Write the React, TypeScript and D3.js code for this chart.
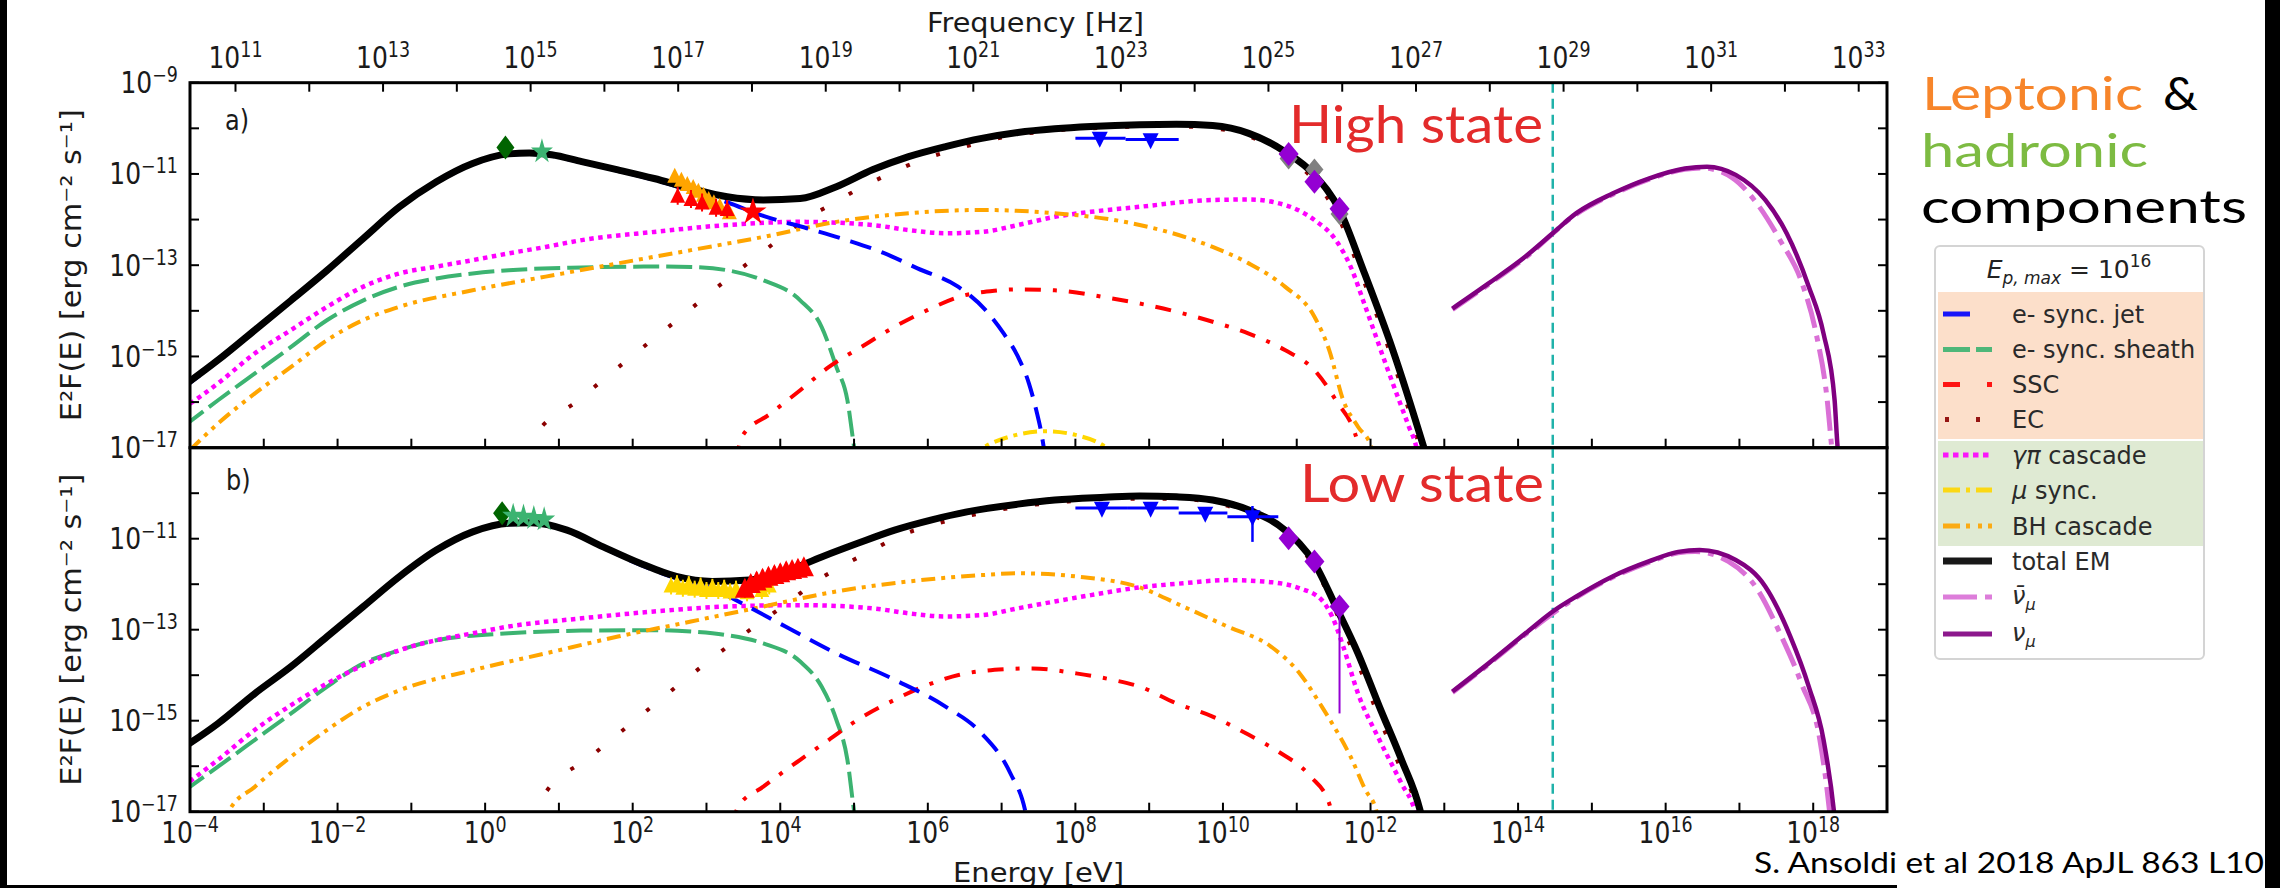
import React from "react";
import * as d3 from "d3";

type P = [number, number];

// ---------- data: [log10 E (eV), log10 E^2F (erg cm^-2 s^-1)] ----------
// Panel a) high state
const highTotal: P[] = [[-4.1,-15.66],[-3.62,-15.08],[-3.12,-14.42],[-2.63,-13.77],[-2.14,-13.11],[-1.65,-12.41],[-1.16,-11.72],[-0.66,-11.17],[-0.17,-10.77],[0.32,-10.56],[0.6,-10.54],[0.9,-10.58],[1.31,-10.73],[1.8,-10.91],[2.29,-11.1],[2.79,-11.32],[3.28,-11.5],[3.77,-11.57],[4.27,-11.54],[4.76,-11.28],[5.25,-10.91],[5.74,-10.62],[6.24,-10.4],[6.73,-10.22],[7.22,-10.09],[7.72,-10.01],[8.21,-9.96],[8.87,-9.92],[9.37,-9.91],[9.86,-9.94],[10.35,-10.11],[10.84,-10.51],[11.24,-11.02],[11.58,-11.79],[11.9,-13.1],[12.3,-14.85],[12.72,-16.98],[12.78,-17.3]];
const highJet: P[] = [[-4.1,-15.7],[-3.62,-15.1],[-3.12,-14.44],[-2.63,-13.79],[-2.14,-13.13],[-1.65,-12.43],[-1.16,-11.74],[-0.66,-11.19],[-0.17,-10.79],[0.32,-10.58],[0.6,-10.56],[0.9,-10.6],[1.31,-10.75],[1.8,-10.93],[2.29,-11.13],[2.79,-11.37],[3.28,-11.62],[3.77,-11.92],[4.36,-12.19],[4.9,-12.45],[5.4,-12.73],[5.86,-13.07],[6.41,-13.47],[6.78,-13.98],[7.03,-14.5],[7.22,-15.0],[7.37,-15.59],[7.47,-16.18],[7.54,-16.69],[7.6,-17.3]];
const highSheath: P[] = [[-4.1,-16.55],[-3.62,-15.96],[-3.12,-15.37],[-2.63,-14.79],[-2.14,-14.2],[-1.65,-13.77],[-1.16,-13.47],[-0.66,-13.29],[-0.17,-13.18],[0.32,-13.11],[1.31,-13.05],[2.29,-13.03],[2.79,-13.04],[3.28,-13.11],[3.77,-13.33],[4.27,-13.77],[4.56,-14.35],[4.76,-15.23],[4.91,-15.96],[5.0,-16.98],[5.03,-17.3]];
const highSSC: P[] = [[3.4,-17.3],[3.48,-16.76],[3.87,-16.25],[4.27,-15.74],[4.66,-15.23],[5.1,-14.79],[5.55,-14.35],[6.0,-13.98],[6.43,-13.69],[6.9,-13.56],[7.22,-13.53],[7.72,-13.55],[8.5,-13.73],[8.87,-13.84],[9.37,-14.02],[9.86,-14.24],[10.35,-14.5],[10.84,-14.86],[11.24,-15.3],[11.53,-15.96],[11.83,-16.91],[11.88,-17.3]];
const highEC: P[] = [[0.55,-17.1],[0.62,-16.87],[1.28,-15.94],[1.94,-15.06],[2.61,-14.19],[3.28,-13.31],[3.97,-12.45],[4.32,-12.01],[4.68,-11.68],[5.07,-11.32],[5.45,-11.02],[5.9,-10.7],[6.4,-10.45],[7.0,-10.2],[7.7,-10.05],[8.5,-9.98],[9.2,-9.95],[9.86,-10.0],[10.35,-10.17],[10.84,-10.6],[11.24,-11.15],[11.55,-11.9],[11.85,-13.1],[12.25,-14.85],[12.66,-16.95],[12.72,-17.3]];
const highGammaPi: P[] = [[-4.1,-16.15],[-3.62,-15.59],[-3.12,-14.93],[-2.63,-14.42],[-2.14,-13.91],[-1.65,-13.47],[-1.16,-13.18],[-0.66,-13.03],[-0.17,-12.89],[0.32,-12.74],[0.82,-12.6],[1.31,-12.45],[2.29,-12.27],[3.28,-12.12],[4.27,-12.05],[5.25,-12.12],[5.74,-12.23],[6.24,-12.3],[6.73,-12.27],[7.22,-12.12],[7.72,-11.94],[8.21,-11.83],[8.87,-11.72],[9.86,-11.57],[10.35,-11.56],[10.84,-11.68],[11.24,-12.01],[11.53,-12.45],[11.73,-13.03],[11.93,-13.91],[12.22,-15.23],[12.52,-16.54],[12.62,-16.98],[12.66,-17.3]];
const highMuSync: P[] = [[6.55,-17.2],[6.8,-16.95],[7.2,-16.72],[7.6,-16.64],[8.0,-16.72],[8.3,-16.88],[8.6,-17.2]];
const highBH: P[] = [[-4.0,-17.05],[-3.62,-16.47],[-3.12,-15.81],[-2.63,-15.23],[-2.14,-14.64],[-1.65,-14.2],[-1.16,-13.91],[-0.17,-13.55],[0.82,-13.25],[1.8,-12.96],[2.79,-12.67],[3.77,-12.38],[4.76,-12.05],[5.74,-11.86],[6.73,-11.79],[7.72,-11.86],[8.7,-12.06],[9.86,-12.6],[10.35,-12.96],[10.84,-13.47],[11.24,-14.13],[11.44,-14.86],[11.63,-15.96],[11.83,-16.54],[12.01,-16.98],[12.05,-17.3]];
const highNuBar: P[] = [[13.11,-13.97],[13.6,-13.42],[14.1,-12.83],[14.79,-11.88],[15.28,-11.45],[15.77,-11.12],[16.26,-10.9],[16.5,-10.87],[16.9,-11.08],[17.2,-11.57],[17.55,-12.45],[17.85,-13.4],[18.04,-14.5],[18.19,-15.96],[18.25,-16.98],[18.27,-17.3]];
const highNu: P[] = [[13.11,-13.95],[13.6,-13.4],[14.1,-12.81],[14.47,-12.3],[14.79,-11.86],[15.28,-11.43],[15.77,-11.1],[16.26,-10.88],[16.56,-10.84],[16.95,-11.02],[17.35,-11.57],[17.64,-12.3],[17.94,-13.47],[18.14,-14.5],[18.29,-15.96],[18.33,-16.98],[18.35,-17.3]];

// Panel b) low state
const lowTotal: P[] = [[-4.1,-15.6],[-3.62,-15.06],[-3.12,-14.4],[-2.63,-13.81],[-2.14,-13.15],[-1.65,-12.49],[-1.16,-11.83],[-0.66,-11.25],[-0.17,-10.85],[0.32,-10.66],[0.62,-10.65],[1.11,-10.81],[1.6,-11.18],[2.1,-11.54],[2.59,-11.83],[3.08,-11.94],[3.58,-11.91],[4.07,-11.72],[4.56,-11.4],[5.05,-11.1],[5.55,-10.81],[6.04,-10.59],[6.53,-10.41],[7.22,-10.24],[7.72,-10.15],[8.4,-10.09],[8.87,-10.06],[9.37,-10.08],[9.86,-10.15],[10.35,-10.37],[10.84,-10.81],[11.24,-11.54],[11.53,-12.49],[11.83,-13.52],[12.12,-14.69],[12.42,-15.86],[12.67,-16.96],[12.72,-17.3]];
const lowJet: P[] = [[-4.1,-15.62],[-3.62,-15.08],[-3.12,-14.42],[-2.63,-13.83],[-2.14,-13.17],[-1.65,-12.51],[-1.16,-11.85],[-0.66,-11.27],[-0.17,-10.87],[0.32,-10.68],[0.62,-10.67],[1.11,-10.83],[1.6,-11.2],[2.1,-11.57],[2.59,-11.87],[3.08,-12.1],[3.48,-12.42],[4.07,-12.93],[4.76,-13.52],[5.55,-14.1],[6.24,-14.69],[6.73,-15.28],[7.12,-16.16],[7.32,-16.98],[7.36,-17.3]];
const lowSheath: P[] = [[-4.1,-16.57],[-3.62,-16.01],[-3.12,-15.42],[-2.63,-14.84],[-2.14,-14.25],[-1.65,-13.74],[-1.16,-13.45],[-0.66,-13.23],[0.32,-13.08],[1.31,-13.02],[2.29,-13.01],[2.79,-13.04],[3.28,-13.12],[3.77,-13.3],[4.27,-13.7],[4.56,-14.25],[4.76,-14.98],[4.91,-15.86],[5.0,-16.98],[5.03,-17.3]];
const lowSSC: P[] = [[3.35,-17.3],[3.43,-16.89],[3.77,-16.45],[4.27,-15.86],[4.66,-15.42],[5.05,-14.98],[5.55,-14.54],[5.94,-14.25],[6.43,-13.99],[7.03,-13.87],[7.42,-13.85],[8.01,-13.96],[8.5,-14.1],[8.87,-14.25],[9.37,-14.62],[9.86,-14.91],[10.35,-15.31],[10.75,-15.68],[11.19,-16.23],[11.44,-16.82],[11.5,-17.3]];
const lowEC: P[] = [[0.7,-17.2],[0.77,-16.71],[1.43,-15.79],[2.1,-14.9],[2.77,-14.02],[3.45,-13.17],[4.15,-12.35],[4.51,-11.91],[4.86,-11.58],[5.25,-11.25],[5.6,-10.95],[6.1,-10.68],[6.6,-10.48],[7.22,-10.3],[7.9,-10.18],[8.6,-10.12],[9.3,-10.12],[9.86,-10.2],[10.35,-10.45],[10.84,-10.9],[11.24,-11.62],[11.53,-12.6],[11.83,-13.75],[12.12,-14.95],[12.42,-16.1],[12.64,-17.0],[12.68,-17.3]];
const lowGammaPi: P[] = [[-4.1,-16.45],[-3.62,-15.86],[-3.12,-15.2],[-2.63,-14.66],[-2.14,-14.18],[-1.65,-13.78],[-1.16,-13.45],[-0.66,-13.23],[-0.17,-13.08],[0.32,-12.93],[1.31,-12.75],[2.29,-12.6],[3.28,-12.49],[4.27,-12.46],[5.25,-12.53],[5.74,-12.64],[6.24,-12.71],[6.73,-12.68],[7.22,-12.53],[7.72,-12.38],[8.21,-12.24],[8.87,-12.07],[9.46,-11.98],[10.06,-11.91],[10.55,-11.94],[11.04,-12.09],[11.34,-12.35],[11.48,-12.71],[11.63,-13.37],[11.83,-14.4],[12.12,-15.42],[12.42,-16.38],[12.6,-16.98],[12.65,-17.3]];
const lowBH: P[] = [[-3.55,-17.3],[-3.47,-16.98],[-3.12,-16.45],[-2.63,-15.79],[-2.14,-15.2],[-1.65,-14.69],[-1.16,-14.33],[-0.17,-13.89],[0.82,-13.52],[1.8,-13.15],[2.79,-12.82],[3.77,-12.49],[4.76,-12.16],[5.74,-11.94],[6.73,-11.8],[7.22,-11.76],[8.01,-11.83],[8.87,-12.07],[9.46,-12.49],[10.06,-12.93],[10.65,-13.37],[11.04,-13.96],[11.34,-14.69],[11.48,-15.06],[11.73,-15.79],[11.93,-16.52],[12.08,-16.98],[12.12,-17.3]];
const lowNuBar: P[] = [[13.11,-14.38],[13.6,-13.76],[14.1,-13.1],[14.79,-12.29],[15.28,-11.85],[15.77,-11.52],[16.17,-11.31],[16.4,-11.28],[16.85,-11.5],[17.25,-12.13],[17.55,-13.08],[17.84,-14.18],[18.09,-15.42],[18.22,-16.98],[18.24,-17.3]];
const lowNu: P[] = [[13.11,-14.36],[13.6,-13.74],[14.1,-13.08],[14.47,-12.6],[14.79,-12.27],[15.28,-11.83],[15.77,-11.5],[16.17,-11.29],[16.46,-11.25],[16.95,-11.47],[17.35,-12.05],[17.69,-13.15],[17.94,-14.25],[18.14,-15.42],[18.28,-16.98],[18.3,-17.3]];

// Observations
const highOptDiamond: P[] = [[0.275,-10.42]];
const highOptStar: P[] = [[0.77,-10.51]];
const highXrayOrange: P[] = [[2.57,-11.06],[2.66,-11.15],[2.74,-11.24],[2.82,-11.31],[2.89,-11.39],[2.96,-11.48],[3.03,-11.57],[3.1,-11.64],[3.18,-11.72],[3.31,-11.86]];
const highXrayRed: P[] = [[2.61,-11.5],[2.79,-11.57],[2.94,-11.65],[3.13,-11.76],[3.28,-11.79]];
const highXrayStar: P[] = [[3.63,-11.83]];
const highFermi: P[] = [[8.33,-10.15],[9.02,-10.18]];
const highFermiXerr: P[] = [[8.0,8.68],[8.68,9.4]];
const highMagic: P[] = [[10.89,-10.56],[11.24,-11.17],[11.58,-11.76]];
const highMagicObs: P[] = [[10.89,-10.66],[11.24,-10.9],[11.58,-11.88]];

const lowOptDiamond: P[] = [[0.23,-10.44]];
const lowOptStar: P[] = [[0.38,-10.5],[0.52,-10.52],[0.66,-10.55],[0.8,-10.58]];
const lowXrayGold: P[] = [[2.52,-12.05],[2.6,-12.0],[2.68,-12.1],[2.76,-12.02],[2.84,-12.12],[2.92,-12.05],[3.0,-12.15],[3.08,-12.08],[3.16,-12.15],[3.24,-12.1],[3.32,-12.18],[3.4,-12.12],[3.55,-12.2],[3.75,-12.15],[3.85,-12.05]];
const lowXrayRed: P[] = [[3.52,-12.12],[3.6,-12.02],[3.68,-11.96],[3.76,-11.9],[3.84,-11.86],[3.92,-11.82],[4.0,-11.78],[4.08,-11.74],[4.16,-11.71],[4.24,-11.68],[4.32,-11.65]];
const lowFermi: P[] = [[8.36,-10.26],[9.02,-10.26],[9.76,-10.37],[10.4,-10.45]];
const lowFermiXerr: P[] = [[8.0,8.7],[8.7,9.4],[9.4,10.06],[10.06,10.75]];
const lowMagic: P[] = [[10.89,-10.99],[11.24,-11.5],[11.58,-12.49]];

// axes
const energyTicks = d3.range(-4, 20);
const energyLabels = [-4, -2, 0, 2, 4, 6, 8, 10, 12, 14, 16, 18];
const freqTicks = d3.range(11, 34);
const freqLabels = [11, 13, 15, 17, 19, 21, 23, 25, 27, 29, 31, 33];
const fluxTicks = d3.range(-17, -8);
const fluxLabelsA = [-9, -11, -13, -15, -17];
const fluxLabelsB = [-11, -13, -15, -17];
const HZ_PER_EV = 2.417989e14;
const NEUTRINO_EVENT_LOG_E = 14.47;

const legendLabels = ["e- sync. jet", "e- sync. sheath", "SSC", "EC", "γπ cascade", "μ sync.", "BH cascade", "total EM", "ν̄", "ν"];

// ---------- layout ----------
const W = 2280, H = 888;
const X0 = 190, X1 = 1887;
const TOP = 82.7, MID = 447.7, BOT = 811.7;

const x = d3.scaleLog().domain([1e-4, 1e19]).range([X0, X1]);
const yA = d3.scaleLog().domain([1e-17, 1e-9]).range([MID, TOP]);
const yB = d3.scaleLog().domain([1e-17, 1e-9]).range([BOT, MID]);
const xe = (l: number) => x(Math.pow(10, l));

type Sty = { stroke: string; width: number; dash?: string };
const S: Record<string, Sty> = {
  jet: { stroke: "#0000ff", width: 4, dash: "22,11" },
  sheath: { stroke: "#3cb371", width: 4, dash: "26,7" },
  ssc: { stroke: "#ff0000", width: 4, dash: "16,12,4,12" },
  ec: { stroke: "#8b0000", width: 4, dash: "4,28" },
  gpi: { stroke: "#ff00ff", width: 4.5, dash: "4.5,4.5" },
  mu: { stroke: "#ffd700", width: 4, dash: "14,6,4,6" },
  bh: { stroke: "#ffa500", width: 4, dash: "14,6,4,6,4,6" },
  total: { stroke: "#000000", width: 7 },
  nubar: { stroke: "#da70d6", width: 5, dash: "30,8,6,8" },
  nu: { stroke: "#800080", width: 4.5 },
};

const FONT = "DejaVu Sans";
const SLIDE = "Lato, 'Open Sans', sans-serif";

function Curve({ data, y, s }: { data: P[]; y: any; s: Sty }) {
  const gen = d3.line<P>().x(d => xe(d[0])).y(d => y(Math.pow(10, d[1]))).curve(d3.curveMonotoneX);
  return <path d={gen(data) || ""} fill="none" stroke={s.stroke} strokeWidth={s.width} strokeDasharray={s.dash} strokeLinejoin="round" />;
}

const diamond = (cx: number, cy: number, w: number, h: number) => `M${cx},${cy - h / 2}L${cx + w / 2},${cy}L${cx},${cy + h / 2}L${cx - w / 2},${cy}Z`;
const triUp = (cx: number, cy: number, s: number) => `M${cx},${cy - s * 0.6}L${cx + s / 2},${cy + s * 0.4}L${cx - s / 2},${cy + s * 0.4}Z`;
const triDown = (cx: number, cy: number, s: number) => `M${cx},${cy + s * 0.6}L${cx + s / 2},${cy - s * 0.4}L${cx - s / 2},${cy - s * 0.4}Z`;
const starPath = d3.symbol(d3.symbolStar, 150)() || "";
const starBig = d3.symbol(d3.symbolStar, 230)() || "";

function Pow({ tx, ty, exp, anchor, size = 25 }: { tx: number; ty: number; exp: number; anchor: string; size?: number }) {
  const e = exp < 0 ? "\u2212" + Math.abs(exp) : String(exp);
  return (
    <g transform={`translate(${tx},${ty}) scale(1,1.18)`}>
      <text textAnchor={anchor as any} fontFamily={FONT} fontSize={size} fill="#1a1a1a">
        10<tspan fontSize={size * 0.7} dy={-size * 0.38}>{e}</tspan>
      </text>
    </g>
  );
}

function Panel({ y, top, bottom, data, id, isTop }: any) {
  const ticksLeft = fluxTicks.map(t => y(Math.pow(10, t)));
  return (
    <g>
      <defs>
        <clipPath id={id}><rect x={X0} y={top} width={X1 - X0} height={bottom - top} /></clipPath>
      </defs>
      <g clipPath={`url(#${id})`}>
        <line x1={xe(NEUTRINO_EVENT_LOG_E)} x2={xe(NEUTRINO_EVENT_LOG_E)} y1={top} y2={bottom} stroke="#20b2aa" strokeWidth={2.5} strokeDasharray="10,6" />
        <Curve data={data.sheath} y={y} s={S.sheath} />
        <Curve data={data.ssc} y={y} s={S.ssc} />
        <Curve data={data.ec} y={y} s={S.ec} />
        <Curve data={data.gpi} y={y} s={S.gpi} />
        {data.mu && <Curve data={data.mu} y={y} s={S.mu} />}
        <Curve data={data.bh} y={y} s={S.bh} />
        <Curve data={data.jet} y={y} s={S.jet} />
        <Curve data={data.total} y={y} s={S.total} />
        <Curve data={data.nubar} y={y} s={S.nubar} />
        <Curve data={data.nu} y={y} s={S.nu} />
        {data.markers}
      </g>
      {energyTicks.map(t => (
        <line key={"eb" + t} x1={xe(t)} x2={xe(t)} y1={bottom} y2={bottom - 9} stroke="#000" strokeWidth={2} />
      ))}
      {ticksLeft.map((ty, i) => (
        <g key={"fl" + i}>
          <line x1={X0} x2={X0 + 9} y1={ty} y2={ty} stroke="#000" strokeWidth={2} />
          <line x1={X1} x2={X1 - 9} y1={ty} y2={ty} stroke="#000" strokeWidth={2} />
        </g>
      ))}
      {isTop && freqTicks.map(t => {
        const px = xe(t - Math.log10(HZ_PER_EV));
        return <line key={"ft" + t} x1={px} x2={px} y1={top} y2={top + 9} stroke="#000" strokeWidth={2} />;
      })}
      <rect x={X0} y={top} width={X1 - X0} height={bottom - top} fill="none" stroke="#000" strokeWidth={3} />
    </g>
  );
}

function Markers({ y, opt, star, tri, triColor, triSize, red, redStar, fermi, fermiX, magic, magicObs, lowMagicErr, goldErr }: any) {
  const yy = (v: number) => y(Math.pow(10, v));
  return (
    <g>
      {opt.map((d: P, i: number) => <path key={"od" + i} d={diamond(xe(d[0]), yy(d[1]), 18, 24)} fill="#006400" />)}
      {star.map((d: P, i: number) => <path key={"os" + i} d={starPath} transform={`translate(${xe(d[0])},${yy(d[1])}) scale(1,1.15)`} fill="#3cb371" />)}
      {tri.map((d: P, i: number) => (
        <g key={"tr" + i}>
          {goldErr && <line x1={xe(d[0])} x2={xe(d[0])} y1={yy(d[1]) - 9} y2={yy(d[1]) + 8} stroke={triColor} strokeWidth={2} />}
          <path d={triUp(xe(d[0]), yy(d[1]), triSize)} fill={triColor} />
        </g>
      ))}
      {red.map((d: P, i: number) => (
        <g key={"rd" + i}>
          <line x1={xe(d[0])} x2={xe(d[0])} y1={yy(d[1]) - 10} y2={yy(d[1]) + 8} stroke="#ff0000" strokeWidth={2} />
          <path d={triUp(xe(d[0]), yy(d[1]), goldErr ? 20 : 15)} fill="#ff0000" />
        </g>
      ))}
      {redStar.map((d: P, i: number) => <path key={"rs" + i} d={starBig} transform={`translate(${xe(d[0])},${yy(d[1])})`} fill="#ff0000" />)}
      {fermi.map((d: P, i: number) => (
        <g key={"fe" + i}>
          <line x1={xe(fermiX[i][0])} x2={xe(fermiX[i][1])} y1={yy(d[1]) + 3} y2={yy(d[1]) + 3} stroke="#0000ff" strokeWidth={3} />
          <path d={triDown(xe(d[0]), yy(d[1]) + 3, 16)} fill="#0000ff" />
        </g>
      ))}
      {lowMagicErr && <line x1={xe(10.4)} x2={xe(10.4)} y1={yy(-10.28)} y2={yy(-11.07)} stroke="#0000ff" strokeWidth={2.5} />}
      {magicObs && magicObs.map((d: P, i: number) => <path key={"mo" + i} d={diamond(xe(d[0]), yy(d[1]), 18, 22)} fill="#808080" />)}
      {lowMagicErr && <line x1={xe(11.58)} x2={xe(11.58)} y1={yy(-12.49)} y2={yy(-14.84)} stroke="#9400d3" strokeWidth={2} />}
      {magic.map((d: P, i: number) => <path key={"mg" + i} d={diamond(xe(d[0]), yy(d[1]), 20, 24)} fill="#9400d3" />)}
    </g>
  );
}

function Legend() {
  const L = 1935, T = 246, R = 2204, B = 659;
  const rows = [314, 349.5, 384.5, 419.5, 455, 490, 526, 561, 597, 634];
  const sty = [S.jet, S.sheath, S.ssc, S.ec, S.gpi, S.mu, S.bh, S.total, S.nubar, S.nu];
  const dashes = ["27,40", "27,6", "17,27,5,40", "0,2,4,27,4,40", "5.5,4.5", "17,6,4,6,17", "17,6,4,8,4,6,4", "", "34,8,7", ""];
  return (
    <g>
      <rect x={L} y={T} width={R - L} height={B - T} rx={5} fill="#ffffff" stroke="#d4d4d4" strokeWidth={2} />
      <rect x={1938} y={292} width={265} height={147} fill="#fcdfca" />
      <rect x={1938} y={441} width={265} height={105} fill="#dfead3" />
      <text x={2069} y={278} textAnchor="middle" fontFamily={FONT} fontSize={25} fill="#222">
        <tspan fontStyle="italic">E</tspan><tspan fontStyle="italic" fontSize={17} dy={6}>p, max</tspan><tspan dy={-6}> = 10</tspan><tspan fontSize={17} dy={-11}>16</tspan>
      </text>
      {legendLabels.map((lab, i) => (
        <g key={lab + i}>
          <line x1={1943} x2={1992} y1={rows[i]} y2={rows[i]} stroke={sty[i].stroke} strokeWidth={i === 7 ? 7 : 5} strokeDasharray={dashes[i] || undefined} opacity={0.9} />
          {i < 8 ? (
            <text x={2012} y={rows[i]} dy="0.36em" fontFamily={FONT} fontSize={24} fill="#2a2a2a">
              {i === 4 ? (<><tspan fontStyle="italic">γπ</tspan> cascade</>) : i === 5 ? (<><tspan fontStyle="italic">μ</tspan> sync.</>) : lab}
            </text>
          ) : (
            <text x={2012} y={rows[i]} dy="0.3em" fontFamily={FONT} fontSize={24} fill="#2a2a2a" fontStyle="italic">
              {i === 8 ? "ν\u0304" : "ν"}<tspan fontSize={16} dy={6}>μ</tspan>
            </text>
          )}
        </g>
      ))}
    </g>
  );
}

export default function App() {
  const highData = {
    total: highTotal, jet: highJet, sheath: highSheath, ssc: highSSC, ec: highEC, gpi: highGammaPi, mu: highMuSync, bh: highBH, nubar: highNuBar, nu: highNu,
    markers: (
      <Markers y={yA} opt={highOptDiamond} star={highOptStar} tri={highXrayOrange} triColor="#ffa500" triSize={15}
        red={highXrayRed} redStar={highXrayStar} fermi={highFermi} fermiX={highFermiXerr} magic={highMagic} magicObs={highMagicObs} />
    ),
  };
  const lowData = {
    total: lowTotal, jet: lowJet, sheath: lowSheath, ssc: lowSSC, ec: lowEC, gpi: lowGammaPi, bh: lowBH, nubar: lowNuBar, nu: lowNu,
    markers: (
      <Markers y={yB} opt={lowOptDiamond} star={lowOptStar} tri={lowXrayGold} triColor="#ffd700" triSize={15} goldErr
        red={lowXrayRed} redStar={[]} fermi={lowFermi} fermiX={lowFermiXerr} magic={lowMagic} lowMagicErr />
    ),
  };
  return (
    <svg width={W} height={H} style={{ position: "absolute", left: 0, top: 0, background: "#fff" }} xmlns="http://www.w3.org/2000/svg">
      <rect x={0} y={0} width={W} height={H} fill="#fff" />
      <Panel y={yA} top={TOP} bottom={MID} data={highData} id="clipA" isTop />
      <Panel y={yB} top={MID} bottom={BOT} data={lowData} id="clipB" />

      <g transform="translate(225,130) scale(1,1.2)"><text fontFamily={FONT} fontSize={24} fill="#1a1a1a">a)</text></g>
      <g transform="translate(226,490) scale(1,1.2)"><text fontFamily={FONT} fontSize={24} fill="#1a1a1a">b)</text></g>

      {freqLabels.map(f => <Pow key={"fl" + f} tx={xe(f - Math.log10(HZ_PER_EV))} ty={68} exp={f} anchor="middle" />)}
      {energyLabels.map(e => <Pow key={"el" + e} tx={xe(e)} ty={843} exp={e} anchor="middle" />)}
      {fluxLabelsA.map(v => <Pow key={"ya" + v} tx={178} ty={yA(Math.pow(10, v)) + 10.5} exp={v} anchor="end" />)}
      {fluxLabelsB.map(v => <Pow key={"yb" + v} tx={178} ty={yB(Math.pow(10, v)) + 10.5} exp={v} anchor="end" />)}

      <text x={927} y={32} textLength={217} lengthAdjust="spacingAndGlyphs" fontFamily={FONT} fontSize={26} fill="#1a1a1a">Frequency [Hz]</text>
      <text x={953} y={882} textLength={171} lengthAdjust="spacingAndGlyphs" fontFamily={FONT} fontSize={26} fill="#1a1a1a">Energy [eV]</text>
      {[(TOP + MID) / 2, (MID + BOT) / 2].map((cy, i) => (
        <text key={"yl" + i} transform={`translate(81,${cy}) rotate(-90)`} textAnchor="middle" textLength={312} lengthAdjust="spacingAndGlyphs" fontFamily={FONT} fontSize={28} fill="#1a1a1a">E²F(E) [erg cm⁻² s⁻¹]</text>
      ))}

      <text x={1289} y={143} textLength={254} lengthAdjust="spacingAndGlyphs" fontFamily={SLIDE} fontSize={53} fill="#e32b2b">High state</text>
      <text x={1300} y={502} textLength={244} lengthAdjust="spacingAndGlyphs" fontFamily={SLIDE} fontSize={53} fill="#e32b2b">Low state</text>
      <text x={1922} y={110} textLength={221} lengthAdjust="spacingAndGlyphs" fontFamily={SLIDE} fontSize={46} fill="#f7852a">Leptonic</text>
      <text x={2163} y={110} textLength={35} lengthAdjust="spacingAndGlyphs" fontFamily={SLIDE} fontSize={46} fill="#000">&amp;</text>
      <text x={1921} y={167} textLength={227} lengthAdjust="spacingAndGlyphs" fontFamily={SLIDE} fontSize={46} fill="#7dbb42">hadronic</text>
      <text x={1921} y={223} textLength={326} lengthAdjust="spacingAndGlyphs" fontFamily={SLIDE} fontSize={46} fill="#000">components</text>
      <text x={1754} y={873} textLength={510} lengthAdjust="spacingAndGlyphs" fontFamily={SLIDE} fontSize={28} fill="#000">S. Ansoldi et al 2018 ApJL 863 L10</text>

      <Legend />

      <rect x={0} y={0} width={7} height={H} fill="#000" />
      <rect x={2265} y={0} width={15} height={H} fill="#000" />
      <rect x={0} y={885} width={1897} height={3} fill="#000" />
    </svg>
  );
}
